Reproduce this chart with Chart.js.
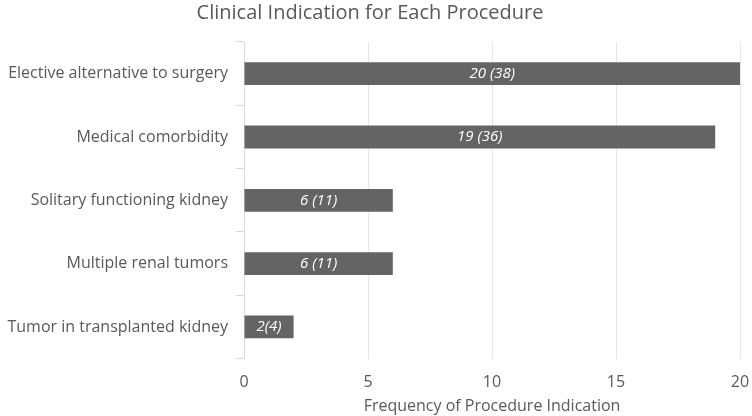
<!DOCTYPE html>
<html>
<head>
<meta charset="utf-8">
<script src="https://cdn.jsdelivr.net/npm/chart.js@4"></script>
<style>
  html, body { margin: 0; padding: 0; background: #fff; }
  #wrap { width: 752px; height: 416px; }
</style>
</head>
<body>
<div id="wrap"><canvas id="indicationChart"></canvas></div>
<script>
const categories = [
  "Elective alternative to surgery",
  "Medical comorbidity",
  "Solitary functioning kidney",
  "Multiple renal tumors",
  "Tumor in transplanted kidney"
];
const frequencies = [20, 19, 6, 6, 2];
const barLabels = ["20 (38)", "19 (36)", "6 (11)", "6 (11)", "2(4)"];
const xTicks = [0, 5, 10, 15, 20];

const fontName = "'Open Sans', sans-serif";

// draws the white italic labels in the middle of each bar
const insideLabels = {
  id: "insideLabels",
  afterDatasetsDraw(chart) {
    const ctx = chart.ctx;
    const meta = chart.getDatasetMeta(0);
    ctx.save();
    ctx.fillStyle = "#ffffff";
    ctx.font = "italic 15px " + fontName;
    ctx.textAlign = "center";
    ctx.textBaseline = "middle";
    meta.data.forEach((bar, i) => {
      const cx = (bar.x + bar.base) / 2;
      ctx.fillText(barLabels[i], cx, bar.y);
    });
    ctx.restore();
  }
};

new Chart(document.getElementById("indicationChart"), {
  type: "bar",
  data: {
    labels: categories,
    datasets: [{
      data: frequencies,
      backgroundColor: "#646464",
      borderWidth: 0,
      barPercentage: 0.36,
      categoryPercentage: 1
    }]
  },
  plugins: [insideLabels],
  options: {
    indexAxis: "y",
    responsive: true,
    maintainAspectRatio: false,
    animation: false,
    layout: { padding: { left: 0, right: 12, top: 1, bottom: 0 } },
    plugins: {
      legend: { display: false },
      tooltip: { enabled: false },
      title: {
        display: true,
        text: "Clinical Indication for Each Procedure",
        color: "#595959",
        font: { family: fontName, size: 20, weight: "normal" },
        padding: { top: 0, bottom: 17 }
      }
    },
    scales: {
      x: {
        min: 0,
        max: 20,
        afterBuildTicks: (scale) => { scale.ticks = xTicks.map(v => ({ value: v })); },
        afterFit: (scale) => { scale.paddingRight = 0; scale.paddingLeft = 0; },
        grid: { color: "#e6e6e6", drawTicks: false },
        border: { display: false },
        ticks: { color: "#595959", font: { family: fontName, size: 16 }, padding: 14 },
        title: {
          display: true,
          text: "Frequency of Procedure Indication",
          color: "#595959",
          font: { family: fontName, size: 16 },
          padding: { top: -9, bottom: 0 }
        }
      },
      y: {
        afterFit: (scale) => { scale.width = 244; },
        grid: { offset: true, drawOnChartArea: false, color: "#d9d9d9", tickLength: 8 },
        border: { display: true, color: "#d9d9d9" },
        ticks: { color: "#595959", font: { family: fontName, size: 16 }, padding: 8 }
      }
    }
  }
});
</script>
</body>
</html>
